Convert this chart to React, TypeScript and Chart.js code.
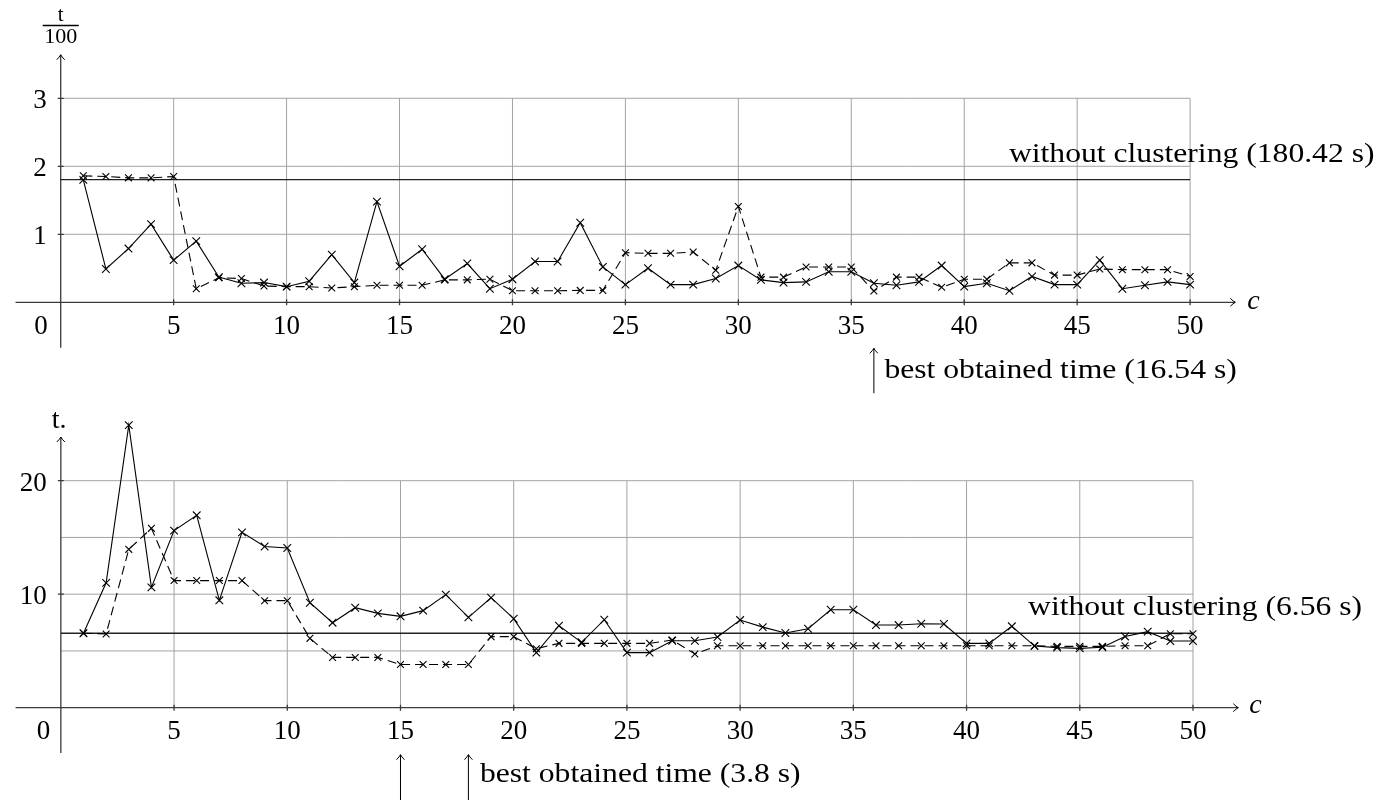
import React, { useEffect, useRef } from 'react';
import { Chart, registerables } from 'chart.js';

Chart.register(...registerables);

// ---------- data ----------
const cValues = [1, 2, 3, 4, 5, 6, 7, 8, 9, 10, 11, 12, 13, 14, 15, 16, 17, 18, 19, 20, 21, 22, 23, 24, 25, 26, 27, 28, 29, 30, 31, 32, 33, 34, 35, 36, 37, 38, 39, 40, 41, 42, 43, 44, 45, 46, 47, 48, 49, 50];

// top panel, t/100
const topSolid = [1.80, 0.49, 0.79, 1.15, 0.62, 0.90, 0.37, 0.28, 0.29, 0.23, 0.31, 0.70, 0.29, 1.48, 0.53, 0.78, 0.34, 0.57, 0.20, 0.34, 0.60, 0.60, 1.17, 0.52, 0.26, 0.50, 0.26, 0.26, 0.35, 0.54, 0.33, 0.29, 0.30, 0.45, 0.45, 0.28, 0.25, 0.30, 0.54, 0.23, 0.28, 0.17, 0.38, 0.26, 0.26, 0.62, 0.20, 0.25, 0.30, 0.26];
const topDashed = [1.86, 1.85, 1.83, 1.83, 1.85, 0.20, 0.36, 0.35, 0.24, 0.23, 0.23, 0.21, 0.23, 0.25, 0.25, 0.25, 0.33, 0.33, 0.34, 0.17, 0.17, 0.17, 0.175, 0.175, 0.73, 0.72, 0.72, 0.74, 0.47, 1.41, 0.37, 0.37, 0.52, 0.52, 0.52, 0.165, 0.37, 0.37, 0.22, 0.34, 0.34, 0.58, 0.58, 0.40, 0.40, 0.49, 0.48, 0.48, 0.48, 0.38];
const topBaseline = 1.8042;
const topXTicks = [5, 10, 15, 20, 25, 30, 35, 40, 45, 50];
const topYTicks = [1, 2, 3];
const topYGrid = [1, 2, 3];
const topBaselineLabel = 'without clustering (180.42 s)';
const topBestLabel = 'best obtained time (16.54 s)';
const topBestAt = [36];

// bottom panel, t.
const bottomSolid = [6.56, 11.0, 24.9, 10.6, 15.6, 16.95, 9.46, 15.45, 14.2, 14.07, 9.25, 7.49, 8.81, 8.31, 8.05, 8.55, 9.96, 7.96, 9.69, 7.84, 4.85, 7.22, 5.76, 7.75, 4.85, 4.85, 5.9, 5.9, 6.23, 7.72, 7.1, 6.58, 6.96, 8.63, 8.63, 7.28, 7.28, 7.4, 7.37, 5.67, 5.67, 7.17, 5.43, 5.29, 5.23, 5.32, 6.28, 6.7, 5.87, 5.87];
const bottomDashed = [6.56, 6.5, 13.95, 15.8, 11.2, 11.2, 11.2, 11.2, 9.43, 9.43, 6.11, 4.43, 4.43, 4.43, 3.8, 3.8, 3.8, 3.8, 6.26, 6.26, 5.2, 5.67, 5.67, 5.67, 5.67, 5.67, 5.96, 4.73, 5.46, 5.46, 5.46, 5.46, 5.46, 5.46, 5.46, 5.46, 5.46, 5.46, 5.46, 5.46, 5.46, 5.46, 5.46, 5.4, 5.4, 5.4, 5.46, 5.46, 6.52, 6.52];
const bottomBaseline = 6.56;
const bottomXTicks = [5, 10, 15, 20, 25, 30, 35, 40, 45, 50];
const bottomYTicks = [10, 20];
const bottomYGrid = [5, 10, 15, 20];
const bottomBaselineLabel = 'without clustering (6.56 s)';
const bottomBestLabel = 'best obtained time (3.8 s)';
const bottomBestAt = [15, 18];

// ---------- styling ----------
const FONT = "'Liberation Serif', 'Times New Roman', serif";
const GRID_COLOR = '#a3a3a3';
const AXIS_COLOR = '#3a3a3a';
const STRETCH = 1.13;

type Panel = {
  solid: number[];
  dashed: number[];
  baseline: number;
  xTicks: number[];
  yTicks: number[];
  yGrid: number[];
  gridTop: number;
  gridRight: number;
  xMin: number; xMax: number; yMin: number; yMax: number;
  pad: { left: number; right: number; top: number; bottom: number };
  xAxis: [number, number];
  yAxis: [number, number];
  baselineLabel: string;
  baselineLabelRight: number; // px offset from origin x
  bestLabel: string;
  bestAt: number[];
  bestTip: number; bestEnd: number; bestTextDy: number; bestTextDx: number;
  yLabel: 'fraction' | 'dot';
  cDx: number; cDy: number;
  zeroDx: number;
  pointR: number;
};

function drawText(ctx: CanvasRenderingContext2D, text: string, x: number, y: number, size: number, align: 'left' | 'right' | 'center', stretch = 1, italic = false) {
  ctx.save();
  ctx.font = `${italic ? 'italic ' : ''}${size}px ${FONT}`;
  ctx.textBaseline = 'alphabetic';
  ctx.textAlign = 'left';
  ctx.fillStyle = '#000';
  const w = ctx.measureText(text).width * stretch;
  let left = x;
  if (align === 'right') left = x - w;
  else if (align === 'center') left = x - w / 2;
  ctx.translate(left, y);
  ctx.scale(stretch, 1);
  ctx.fillText(text, 0, 0);
  ctx.restore();
}

function arrowHead(ctx: CanvasRenderingContext2D, x: number, y: number, dir: 'up' | 'right') {
  ctx.beginPath();
  if (dir === 'up') {
    ctx.moveTo(x - 4, y + 5);
    ctx.quadraticCurveTo(x - 1, y + 2, x, y);
    ctx.quadraticCurveTo(x + 1, y + 2, x + 4, y + 5);
  } else {
    ctx.moveTo(x - 5, y - 4);
    ctx.quadraticCurveTo(x - 2, y - 1, x, y);
    ctx.quadraticCurveTo(x - 2, y + 1, x - 5, y + 4);
  }
  ctx.stroke();
}

function makePlugin(p: Panel) {
  return {
    id: 'panelDecor',
    beforeDraw(chart: any) {
      const ctx = chart.ctx as CanvasRenderingContext2D;
      ctx.save();
      ctx.fillStyle = '#fff';
      ctx.fillRect(0, 0, chart.width, chart.height);
      ctx.restore();
    },
    beforeDatasetsDraw(chart: any) {
      const ctx = chart.ctx as CanvasRenderingContext2D;
      const xs = chart.scales.x;
      const ys = chart.scales.y;
      const X = (v: number) => xs.getPixelForValue(v);
      const Y = (v: number) => ys.getPixelForValue(v);
      const x0 = X(0);
      const y0 = Y(0);
      ctx.save();
      // grid
      ctx.strokeStyle = GRID_COLOR;
      ctx.lineWidth = 1;
      ctx.beginPath();
      for (const t of p.xTicks) {
        ctx.moveTo(X(t), y0);
        ctx.lineTo(X(t), Y(p.gridTop));
      }
      for (const g of p.yGrid) {
        ctx.moveTo(x0, Y(g));
        ctx.lineTo(X(p.gridRight), Y(g));
      }
      ctx.stroke();
      // axes
      ctx.strokeStyle = AXIS_COLOR;
      ctx.lineWidth = 1.3;
      ctx.beginPath();
      ctx.moveTo(X(p.xAxis[0]), y0);
      ctx.lineTo(X(p.xAxis[1]), y0);
      ctx.moveTo(x0, Y(p.yAxis[0]));
      ctx.lineTo(x0, Y(p.yAxis[1]));
      // tick marks
      for (const t of p.xTicks) {
        ctx.moveTo(X(t), y0 - 3);
        ctx.lineTo(X(t), y0 + 3);
      }
      for (const t of p.yTicks) {
        ctx.moveTo(x0 - 3, Y(t));
        ctx.lineTo(x0 + 3, Y(t));
      }
      ctx.stroke();
      ctx.lineWidth = 1;
      ctx.strokeStyle = '#000';
      arrowHead(ctx, X(p.xAxis[1]), y0, 'right');
      arrowHead(ctx, x0, Y(p.yAxis[1]), 'up');
      ctx.restore();
    },
    afterDatasetsDraw(chart: any) {
      const ctx = chart.ctx as CanvasRenderingContext2D;
      const xs = chart.scales.x;
      const ys = chart.scales.y;
      const X = (v: number) => xs.getPixelForValue(v);
      const Y = (v: number) => ys.getPixelForValue(v);
      const x0 = X(0);
      const y0 = Y(0);
      // tick labels
      for (const t of p.xTicks) drawText(ctx, String(t), X(t), y0 + 31.5, 27, 'center');
      for (const t of p.yTicks) drawText(ctx, String(t), x0 - 14, Y(t) + 10, 27, 'right');
      drawText(ctx, '0', x0 + p.zeroDx, y0 + 31.5, 27, 'right');
      // c label
      drawText(ctx, 'c', X(p.xAxis[1]) + p.cDx, y0 + p.cDy, 28, 'left', 1, true);
      // y label
      const tip = Y(p.yAxis[1]);
      if (p.yLabel === 'fraction') {
        drawText(ctx, 't', x0, tip - 33.5, 21, 'center');
        ctx.save();
        ctx.strokeStyle = '#000';
        ctx.lineWidth = 1.4;
        ctx.beginPath();
        ctx.moveTo(x0 - 18, tip - 29.3);
        ctx.lineTo(x0 + 18, tip - 29.3);
        ctx.stroke();
        ctx.restore();
        drawText(ctx, '100', x0, tip - 11.7, 21, 'center', 1.05);
      } else {
        drawText(ctx, 't.', x0 - 9, tip - 9.5, 28, 'left');
      }
      // baseline label
      drawText(ctx, p.baselineLabel, x0 + p.baselineLabelRight, Y(p.baseline) - 18, 28, 'right', STRETCH);
      // best arrows
      ctx.save();
      ctx.strokeStyle = '#000';
      ctx.lineWidth = 1;
      for (const b of p.bestAt) {
        const bx = X(b);
        ctx.beginPath();
        ctx.moveTo(bx, y0 + p.bestTip);
        ctx.lineTo(bx, y0 + p.bestEnd);
        ctx.stroke();
        arrowHead(ctx, bx, y0 + p.bestTip, 'up');
      }
      ctx.restore();
      const lastX = X(p.bestAt[p.bestAt.length - 1]);
      drawText(ctx, p.bestLabel, lastX + p.bestTextDx, y0 + p.bestTextDy, 28, 'left', STRETCH);
    },
  };
}

function buildConfig(p: Panel) {
  return {
    type: 'line' as const,
    data: {
      datasets: [
        {
          data: cValues.map((c, i) => ({ x: c, y: p.solid[i] })),
          borderColor: '#000',
          borderWidth: 1.1,
          pointStyle: 'crossRot',
          pointRadius: p.pointR,
          pointBorderColor: '#000',
          pointBorderWidth: 1.1,
          pointBackgroundColor: '#000',
          fill: false,
          tension: 0,
          clip: false,
        },
        {
          data: cValues.map((c, i) => ({ x: c, y: p.dashed[i] })),
          borderColor: '#000',
          borderWidth: 1.1,
          borderDash: [9, 5],
          pointStyle: 'crossRot',
          pointRadius: p.pointR - 0.6,
          pointBorderColor: '#000',
          pointBorderWidth: 1.1,
          pointBackgroundColor: '#000',
          fill: false,
          tension: 0,
          clip: false,
        },
        {
          data: [{ x: 0, y: p.baseline }, { x: p.gridRight, y: p.baseline }],
          borderColor: '#222',
          borderWidth: 1.3,
          pointRadius: 0,
          fill: false,
          clip: false,
        },
      ],
    },
    options: {
      responsive: false,
      animation: false as const,
      devicePixelRatio: 1,
      events: [] as any[],
      layout: { padding: p.pad },
      plugins: {
        legend: { display: false },
        tooltip: { enabled: false },
        title: { display: false },
      },
      scales: {
        x: { type: 'linear' as const, min: p.xMin, max: p.xMax, display: false },
        y: { type: 'linear' as const, min: p.yMin, max: p.yMax, display: false },
      },
    },
    plugins: [makePlugin(p)],
  };
}

const topPanel: Panel = {
  solid: topSolid,
  dashed: topDashed,
  baseline: topBaseline,
  xTicks: topXTicks,
  yTicks: topYTicks,
  yGrid: topYGrid,
  gridTop: 3,
  gridRight: 50,
  xMin: -2.4, xMax: 55, yMin: -0.72, yMax: 3.7,
  pad: { left: 1.8, right: 73.95, top: 50.7, bottom: 48.74 },
  xAxis: [-2, 52],
  yAxis: [-0.67, 3.64],
  baselineLabel: topBaselineLabel,
  baselineLabelRight: 1313.8,
  bestLabel: topBestLabel,
  bestAt: topBestAt,
  bestTip: 46, bestEnd: 91, bestTextDy: 76, bestTextDx: 10.5,
  yLabel: 'fraction',
  cDx: 12, cDy: 6.7,
  zeroDx: -13,
  pointR: 5.4,
};

const bottomPanel: Panel = {
  solid: bottomSolid,
  dashed: bottomDashed,
  baseline: bottomBaseline,
  xTicks: bottomXTicks,
  yTicks: bottomYTicks,
  yGrid: bottomYGrid,
  gridTop: 20,
  gridRight: 50,
  xMin: -2.4, xMax: 55, yMin: -4.3, yMax: 26,
  pad: { left: 4.37, right: 70.8, top: 12.6, bottom: 43.5 },
  xAxis: [-2, 52],
  yAxis: [-4, 23.85],
  baselineLabel: bottomBaselineLabel,
  baselineLabelRight: 1301.2,
  bestLabel: bottomBestLabel,
  bestAt: bottomBestAt,
  bestTip: 47, bestEnd: 100, bestTextDy: 74, bestTextDx: 11.5,
  yLabel: 'dot',
  cDx: 11, cDy: 5.3,
  zeroDx: -10.5,
  pointR: 5.4,
};

function PanelChart({ panel, top }: { panel: Panel; top: number }) {
  const ref = useRef<HTMLCanvasElement | null>(null);
  useEffect(() => {
    if (!ref.current) return;
    const chart = new Chart(ref.current, buildConfig(panel) as any);
    return () => chart.destroy();
  }, [panel]);
  return (
    <canvas
      ref={ref}
      width={1377}
      height={400}
      style={{ position: 'absolute', left: 0, top, width: 1377, height: 400, display: 'block' }}
    />
  );
}

export default function App() {
  return (
    <div style={{ position: 'absolute', left: 0, top: 0, width: 1377, height: 800, background: '#fff', overflow: 'hidden' }}>
      <PanelChart panel={topPanel} top={0} />
      <PanelChart panel={bottomPanel} top={400} />
    </div>
  );
}
